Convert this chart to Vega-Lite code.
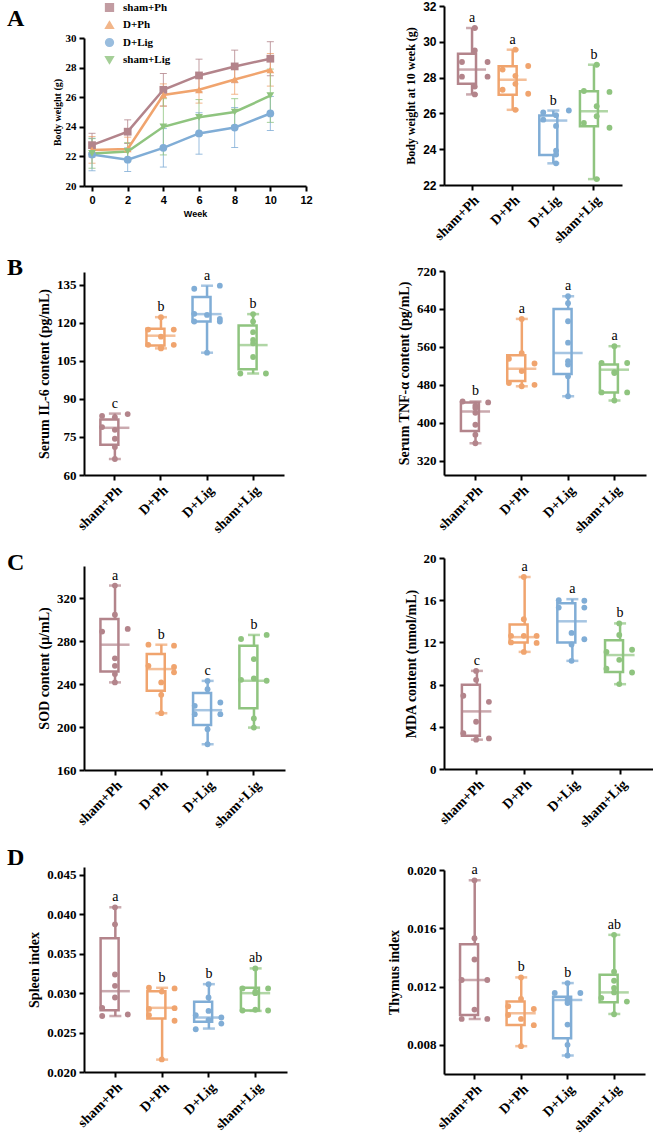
{
"$schema": "https://vega.github.io/schema/vega-lite/v6.json",
"padding": {"left": 7, "top": 0, "right": 0, "bottom": 0},
"background": "white",
"bounds": "flush",
"spacing": 360,
"datasets": {
"lineA": [
{"group":"sham+Ph","week":0,"mean":22.76,"sd":0.8},{"group":"sham+Ph","week":2,"mean":23.67,"sd":0.8},{"group":"sham+Ph","week":4,"mean":26.5,"sd":1.1},{"group":"sham+Ph","week":6,"mean":27.47,"sd":1.1},{"group":"sham+Ph","week":8,"mean":28.08,"sd":1.1},{"group":"sham+Ph","week":10,"mean":28.6,"sd":1.15},
{"group":"D+Ph","week":0,"mean":22.44,"sd":0.9},{"group":"D+Ph","week":2,"mean":22.5,"sd":0.8},{"group":"D+Ph","week":4,"mean":26.15,"sd":0.75},{"group":"D+Ph","week":6,"mean":26.5,"sd":0.9},{"group":"D+Ph","week":8,"mean":27.2,"sd":1.0},{"group":"D+Ph","week":10,"mean":27.85,"sd":1.1},
{"group":"D+Lig","week":0,"mean":22.13,"sd":1.1},{"group":"D+Lig","week":2,"mean":21.78,"sd":0.8},{"group":"D+Lig","week":4,"mean":22.58,"sd":1.3},{"group":"D+Lig","week":6,"mean":23.55,"sd":1.4},{"group":"D+Lig","week":8,"mean":23.95,"sd":1.35},{"group":"D+Lig","week":10,"mean":24.9,"sd":1.15},
{"group":"sham+Lig","week":0,"mean":22.2,"sd":1.0},{"group":"sham+Lig","week":2,"mean":22.33,"sd":0.6},{"group":"sham+Lig","week":4,"mean":24.0,"sd":1.9},{"group":"sham+Lig","week":6,"mean":24.64,"sd":1.2},{"group":"sham+Lig","week":8,"mean":25.0,"sd":0.9},{"group":"sham+Lig","week":10,"mean":26.1,"sd":1.8}
],
"sumAR": [
{"group":"sham+Ph","min":27.06,"q1":27.65,"med":28.45,"q3":29.33,"max":30.77,"sig":"a"},
{"group":"D+Ph","min":26.2,"q1":27.04,"med":27.88,"q3":28.64,"max":29.56,"sig":"a"},
{"group":"D+Lig","min":23.21,"q1":23.68,"med":25.6,"q3":25.88,"max":26.16,"sig":"b"},
{"group":"sham+Lig","min":22.33,"q1":25.28,"med":26.12,"q3":27.24,"max":28.72,"sig":"b"}
],
"ptsAR": [
{"group":"sham+Ph","v":30.77,"side":"C"},{"group":"sham+Ph","v":29.52,"side":"C"},{"group":"sham+Ph","v":28.87,"side":"L"},{"group":"sham+Ph","v":28.87,"side":"R"},{"group":"sham+Ph","v":28.05,"side":"L"},{"group":"sham+Ph","v":28.05,"side":"R"},{"group":"sham+Ph","v":27.5,"side":"C"},{"group":"sham+Ph","v":27.06,"side":"C"},
{"group":"D+Ph","v":29.56,"side":"C"},{"group":"D+Ph","v":28.65,"side":"R"},{"group":"D+Ph","v":28.45,"side":"L"},{"group":"D+Ph","v":28.1,"side":"C"},{"group":"D+Ph","v":27.65,"side":"C"},{"group":"D+Ph","v":27.32,"side":"L"},{"group":"D+Ph","v":27.1,"side":"R"},{"group":"D+Ph","v":26.2,"side":"C"},
{"group":"D+Lig","v":26.16,"side":"R"},{"group":"D+Lig","v":26.05,"side":"L"},{"group":"D+Lig","v":25.9,"side":"C"},{"group":"D+Lig","v":25.65,"side":"L"},{"group":"D+Lig","v":25.3,"side":"C"},{"group":"D+Lig","v":23.92,"side":"C"},{"group":"D+Lig","v":23.7,"side":"C"},{"group":"D+Lig","v":23.21,"side":"C"},
{"group":"sham+Lig","v":28.72,"side":"C"},{"group":"sham+Lig","v":27.25,"side":"L"},{"group":"sham+Lig","v":27.2,"side":"R"},{"group":"sham+Lig","v":26.4,"side":"C"},{"group":"sham+Lig","v":25.84,"side":"C"},{"group":"sham+Lig","v":25.47,"side":"L"},{"group":"sham+Lig","v":25.2,"side":"R"},{"group":"sham+Lig","v":22.33,"side":"C"}
],
"sumBL": [
{"group":"sham+Ph","min":66.3,"q1":71.9,"med":78.6,"q3":81.9,"max":84.2,"sig":"c"},
{"group":"D+Ph","min":109.9,"q1":111,"med":114.9,"q3":117.6,"max":122.2,"sig":"b"},
{"group":"D+Lig","min":108.2,"q1":120.5,"med":123.4,"q3":130.1,"max":134.6,"sig":"a"},
{"group":"sham+Lig","min":100,"q1":101.7,"med":111.2,"q3":118.9,"max":123.4,"sig":"b"}
],
"ptsBL": [
{"group":"sham+Ph","v":84.0,"side":"R"},{"group":"sham+Ph","v":83.3,"side":"L"},{"group":"sham+Ph","v":82.8,"side":"C"},{"group":"sham+Ph","v":78.9,"side":"L"},{"group":"sham+Ph","v":77.8,"side":"C"},{"group":"sham+Ph","v":74.3,"side":"C"},{"group":"sham+Ph","v":71.0,"side":"C"},{"group":"sham+Ph","v":66.3,"side":"C"},
{"group":"D+Ph","v":122.2,"side":"C"},{"group":"D+Ph","v":117.3,"side":"L"},{"group":"D+Ph","v":117.3,"side":"R"},{"group":"D+Ph","v":114.5,"side":"C"},{"group":"D+Ph","v":111.3,"side":"L"},{"group":"D+Ph","v":111.3,"side":"R"},{"group":"D+Ph","v":110.3,"side":"C"},{"group":"D+Ph","v":109.9,"side":"C"},
{"group":"D+Lig","v":134.6,"side":"R"},{"group":"D+Lig","v":133.4,"side":"L"},{"group":"D+Lig","v":123.5,"side":"L"},{"group":"D+Lig","v":123.1,"side":"C"},{"group":"D+Lig","v":121.5,"side":"R"},{"group":"D+Lig","v":120.5,"side":"L"},{"group":"D+Lig","v":120.5,"side":"R"},{"group":"D+Lig","v":108.2,"side":"C"},
{"group":"sham+Lig","v":123.4,"side":"C"},{"group":"sham+Lig","v":120.5,"side":"C"},{"group":"sham+Lig","v":116.3,"side":"C"},{"group":"sham+Lig","v":113.2,"side":"C"},{"group":"sham+Lig","v":111.9,"side":"C"},{"group":"sham+Lig","v":106.5,"side":"C"},{"group":"sham+Lig","v":100,"side":"L"},{"group":"sham+Lig","v":100,"side":"R"}
],
"sumBR": [
{"group":"sham+Ph","min":357,"q1":383,"med":424,"q3":443,"max":445,"sig":"b"},
{"group":"D+Ph","min":477,"q1":488,"med":514,"q3":542.5,"max":619,"sig":"a"},
{"group":"D+Lig","min":456,"q1":503,"med":547,"q3":640,"max":667,"sig":"a"},
{"group":"sham+Lig","min":447,"q1":464,"med":512,"q3":523,"max":561.5,"sig":"a"}
],
"ptsBR": [
{"group":"sham+Ph","v":445,"side":"L"},{"group":"sham+Ph","v":443,"side":"R"},{"group":"sham+Ph","v":436,"side":"C"},{"group":"sham+Ph","v":431,"side":"C"},{"group":"sham+Ph","v":421,"side":"C"},{"group":"sham+Ph","v":396,"side":"C"},{"group":"sham+Ph","v":375,"side":"C"},{"group":"sham+Ph","v":357,"side":"C"},
{"group":"D+Ph","v":619,"side":"C"},{"group":"D+Ph","v":547,"side":"C"},{"group":"D+Ph","v":535,"side":"L"},{"group":"D+Ph","v":525,"side":"R"},{"group":"D+Ph","v":509,"side":"C"},{"group":"D+Ph","v":484,"side":"L"},{"group":"D+Ph","v":480,"side":"R"},{"group":"D+Ph","v":477,"side":"C"},
{"group":"D+Lig","v":667,"side":"C"},{"group":"D+Lig","v":652,"side":"C"},{"group":"D+Lig","v":614,"side":"C"},{"group":"D+Lig","v":569,"side":"C"},{"group":"D+Lig","v":530,"side":"C"},{"group":"D+Lig","v":523,"side":"C"},{"group":"D+Lig","v":498,"side":"C"},{"group":"D+Lig","v":456,"side":"C"},
{"group":"sham+Lig","v":561.5,"side":"C"},{"group":"sham+Lig","v":526,"side":"L"},{"group":"sham+Lig","v":526,"side":"R"},{"group":"sham+Lig","v":507,"side":"C"},{"group":"sham+Lig","v":505,"side":"C"},{"group":"sham+Lig","v":464,"side":"L"},{"group":"sham+Lig","v":464,"side":"R"},{"group":"sham+Lig","v":447,"side":"C"}
],
"sumCL": [
{"group":"sham+Ph","min":241.6,"q1":251.8,"med":276.7,"q3":300.7,"max":331.8,"sig":"a"},
{"group":"D+Ph","min":212.9,"q1":233.8,"med":254,"q3":268,"max":276.7,"sig":"b"},
{"group":"D+Lig","min":184,"q1":202,"med":215.7,"q3":231.6,"max":243,"sig":"c"},
{"group":"sham+Lig","min":199.5,"q1":217.6,"med":243.1,"q3":275.8,"max":285.8,"sig":"b"}
],
"ptsCL": [
{"group":"sham+Ph","v":331.8,"side":"C"},{"group":"sham+Ph","v":304.7,"side":"C"},{"group":"sham+Ph","v":291.4,"side":"R"},{"group":"sham+Ph","v":288.9,"side":"L"},{"group":"sham+Ph","v":264,"side":"C"},{"group":"sham+Ph","v":257,"side":"C"},{"group":"sham+Ph","v":249.3,"side":"C"},{"group":"sham+Ph","v":241.6,"side":"C"},
{"group":"D+Ph","v":276.7,"side":"L"},{"group":"D+Ph","v":275.8,"side":"R"},{"group":"D+Ph","v":257,"side":"L"},{"group":"D+Ph","v":256,"side":"R"},{"group":"D+Ph","v":251,"side":"R"},{"group":"D+Ph","v":241.6,"side":"C"},{"group":"D+Ph","v":230,"side":"C"},{"group":"D+Ph","v":212.9,"side":"C"},
{"group":"D+Lig","v":243,"side":"C"},{"group":"D+Lig","v":235.3,"side":"C"},{"group":"D+Lig","v":222.9,"side":"R"},{"group":"D+Lig","v":219.8,"side":"L"},{"group":"D+Lig","v":212,"side":"L"},{"group":"D+Lig","v":212,"side":"R"},{"group":"D+Lig","v":198,"side":"C"},{"group":"D+Lig","v":184,"side":"C"},
{"group":"sham+Lig","v":285.8,"side":"R"},{"group":"sham+Lig","v":282,"side":"L"},{"group":"sham+Lig","v":263.3,"side":"C"},{"group":"sham+Lig","v":245.3,"side":"C"},{"group":"sham+Lig","v":244,"side":"L"},{"group":"sham+Lig","v":243.1,"side":"R"},{"group":"sham+Lig","v":208,"side":"C"},{"group":"sham+Lig","v":199.5,"side":"C"}
],
"sumCR": [
{"group":"sham+Ph","min":2.78,"q1":3.15,"med":5.46,"q3":7.98,"max":9.3,"sig":"c"},
{"group":"D+Ph","min":11.1,"q1":12.0,"med":12.5,"q3":13.7,"max":18.2,"sig":"a"},
{"group":"D+Lig","min":10.25,"q1":12.0,"med":14.0,"q3":15.7,"max":16.1,"sig":"a"},
{"group":"sham+Lig","min":8.04,"q1":9.2,"med":10.8,"q3":12.2,"max":13.8,"sig":"b"}
],
"ptsCR": [
{"group":"sham+Ph","v":9.3,"side":"C"},{"group":"sham+Ph","v":8.45,"side":"C"},{"group":"sham+Ph","v":6.94,"side":"L"},{"group":"sham+Ph","v":6.37,"side":"R"},{"group":"sham+Ph","v":4.48,"side":"C"},{"group":"sham+Ph","v":3.4,"side":"L"},{"group":"sham+Ph","v":2.9,"side":"R"},{"group":"sham+Ph","v":2.78,"side":"C"},
{"group":"D+Ph","v":18.2,"side":"C"},{"group":"D+Ph","v":14.2,"side":"C"},{"group":"D+Ph","v":12.62,"side":"L"},{"group":"D+Ph","v":12.62,"side":"C"},{"group":"D+Ph","v":12.62,"side":"R"},{"group":"D+Ph","v":12.0,"side":"L"},{"group":"D+Ph","v":11.95,"side":"R"},{"group":"D+Ph","v":11.1,"side":"C"},
{"group":"D+Lig","v":16.0,"side":"L"},{"group":"D+Lig","v":15.95,"side":"R"},{"group":"D+Lig","v":15.3,"side":"L"},{"group":"D+Lig","v":15.3,"side":"R"},{"group":"D+Lig","v":12.9,"side":"C"},{"group":"D+Lig","v":12.3,"side":"R"},{"group":"D+Lig","v":11.8,"side":"C"},{"group":"D+Lig","v":10.25,"side":"C"},
{"group":"sham+Lig","v":13.8,"side":"C"},{"group":"sham+Lig","v":12.7,"side":"C"},{"group":"sham+Lig","v":11.3,"side":"R"},{"group":"sham+Lig","v":11.1,"side":"L"},{"group":"sham+Lig","v":10.35,"side":"C"},{"group":"sham+Lig","v":9.5,"side":"L"},{"group":"sham+Lig","v":9.15,"side":"R"},{"group":"sham+Lig","v":8.05,"side":"C"}
],
"sumDL": [
{"group":"sham+Ph","min":0.0271,"q1":0.02784,"med":0.03025,"q3":0.03695,"max":0.04089,"sig":"a"},
{"group":"D+Ph","min":0.02157,"q1":0.02678,"med":0.02814,"q3":0.03025,"max":0.03068,"sig":"b"},
{"group":"D+Lig","min":0.02551,"q1":0.02636,"med":0.02691,"q3":0.0289,"max":0.03114,"sig":"b"},
{"group":"sham+Lig","min":0.02775,"q1":0.0278,"med":0.0300,"q3":0.0307,"max":0.03314,"sig":"ab"}
],
"ptsDL": [
{"group":"sham+Ph","v":0.04089,"side":"C"},{"group":"sham+Ph","v":0.03873,"side":"C"},{"group":"sham+Ph","v":0.03237,"side":"C"},{"group":"sham+Ph","v":0.03093,"side":"C"},{"group":"sham+Ph","v":0.02945,"side":"C"},{"group":"sham+Ph","v":0.02814,"side":"L"},{"group":"sham+Ph","v":0.0271,"side":"L"},{"group":"sham+Ph","v":0.02729,"side":"R"},
{"group":"D+Ph","v":0.0307,"side":"L"},{"group":"D+Ph","v":0.0306,"side":"R"},{"group":"D+Ph","v":0.0302,"side":"C"},{"group":"D+Ph","v":0.0280,"side":"L"},{"group":"D+Ph","v":0.0281,"side":"R"},{"group":"D+Ph","v":0.0272,"side":"L"},{"group":"D+Ph","v":0.0265,"side":"R"},{"group":"D+Ph","v":0.0216,"side":"C"},
{"group":"D+Lig","v":0.03114,"side":"C"},{"group":"D+Lig","v":0.02945,"side":"C"},{"group":"D+Lig","v":0.02775,"side":"C"},{"group":"D+Lig","v":0.0272,"side":"L"},{"group":"D+Lig","v":0.02691,"side":"R"},{"group":"D+Lig","v":0.0266,"side":"C"},{"group":"D+Lig","v":0.02614,"side":"R"},{"group":"D+Lig","v":0.02542,"side":"L"},
{"group":"sham+Lig","v":0.03314,"side":"C"},{"group":"sham+Lig","v":0.0306,"side":"L"},{"group":"sham+Lig","v":0.0306,"side":"R"},{"group":"sham+Lig","v":0.0300,"side":"C"},{"group":"sham+Lig","v":0.0302,"side":"C"},{"group":"sham+Lig","v":0.0278,"side":"L"},{"group":"sham+Lig","v":0.0278,"side":"R"},{"group":"sham+Lig","v":0.0279,"side":"C"}
],
"sumDR": [
{"group":"sham+Ph","min":0.00978,"q1":0.01005,"med":0.01245,"q3":0.01491,"max":0.01929,"sig":"a"},
{"group":"D+Ph","min":0.00791,"q1":0.00937,"med":0.01017,"q3":0.01097,"max":0.01263,"sig":"b"},
{"group":"D+Lig","min":0.00727,"q1":0.00846,"med":0.01108,"q3":0.01131,"max":0.01224,"sig":"b"},
{"group":"sham+Lig","min":0.01012,"q1":0.01092,"med":0.0116,"q3":0.01281,"max":0.01555,"sig":"ab"}
],
"ptsDR": [
{"group":"sham+Ph","v":0.01929,"side":"C"},{"group":"sham+Ph","v":0.01532,"side":"C"},{"group":"sham+Ph","v":0.01386,"side":"C"},{"group":"sham+Ph","v":0.01245,"side":"L"},{"group":"sham+Ph","v":0.01245,"side":"R"},{"group":"sham+Ph","v":0.01042,"side":"C"},{"group":"sham+Ph","v":0.00978,"side":"L"},{"group":"sham+Ph","v":0.00978,"side":"R"},
{"group":"D+Ph","v":0.01263,"side":"C"},{"group":"D+Ph","v":0.01115,"side":"C"},{"group":"D+Ph","v":0.01065,"side":"L"},{"group":"D+Ph","v":0.01046,"side":"R"},{"group":"D+Ph","v":0.01005,"side":"L"},{"group":"D+Ph","v":0.00978,"side":"C"},{"group":"D+Ph","v":0.00935,"side":"R"},{"group":"D+Ph","v":0.00791,"side":"C"},
{"group":"D+Lig","v":0.01224,"side":"C"},{"group":"D+Lig","v":0.01156,"side":"L"},{"group":"D+Lig","v":0.01156,"side":"R"},{"group":"D+Lig","v":0.01108,"side":"C"},{"group":"D+Lig","v":0.01087,"side":"C"},{"group":"D+Lig","v":0.00939,"side":"C"},{"group":"D+Lig","v":0.0080,"side":"C"},{"group":"D+Lig","v":0.00727,"side":"C"},
{"group":"sham+Lig","v":0.01555,"side":"C"},{"group":"sham+Lig","v":0.01302,"side":"C"},{"group":"sham+Lig","v":0.0124,"side":"C"},{"group":"sham+Lig","v":0.0119,"side":"C"},{"group":"sham+Lig","v":0.0116,"side":"C"},{"group":"sham+Lig","v":0.01122,"side":"L"},{"group":"sham+Lig","v":0.01097,"side":"R"},{"group":"sham+Lig","v":0.0101,"side":"C"}
]
},
"hconcat": [
{
"vconcat": [
{"width": 1, "height": 32, "data": {"values": []}, "mark": "point"},
{
"width": 222, "height": 148,
"title": {"text": "A", "anchor": "start", "frame": "group", "orient": "top", "offset": 0, "dx": -77, "dy": 18, "baseline": "alphabetic", "font": "Liberation Serif", "fontSize": 24, "fontWeight": "bold", "color": "black"},
"data": {"name": "lineA"},
"layer": [
{"mark": {"type": "errorbar", "ticks": true, "size": 7, "thickness": 1, "opacity": 0.8},
 "encoding": {
  "x": {"field": "week", "type": "quantitative", "scale": {"domain": [-0.45, 12], "nice": false, "zero": false}, "axis": {"values": [0,2,4,6,8,10,12], "title": "Week", "labelAngle": 0, "labelFont": "Liberation Sans", "labelFontSize": 11, "labelFlush": false, "titleFont": "Liberation Sans", "titleFontSize": 9, "titlePadding": 4}},
  "y": {"field": "mean", "type": "quantitative", "scale": {"domain": [20, 30], "nice": false, "zero": false}, "axis": {"values": [20,22,24,26,28,30], "title": "Body weight (g)", "labelFontSize": 11, "titleFontSize": 10, "titlePadding": 3}},
  "yError": {"field": "sd"},
  "color": {"field": "group", "type": "nominal", "scale": {"domain": ["sham+Ph","D+Ph","D+Lig","sham+Lig"], "range": ["#B3848B","#F0A46E","#80ADD6","#8FC47F"]}, "legend": {"orient": "none", "legendX": 20, "legendY": -4, "title": null, "labelFont": "Liberation Serif", "labelFontWeight": "bold", "labelFontSize": 11, "labelColor": "black", "symbolSize": 60, "rowPadding": 3.5, "labelOffset": 8}}
 }},
{"mark": {"type": "line", "strokeWidth": 2.5},
 "encoding": {
  "x": {"field": "week", "type": "quantitative", "axis": {"values": [0,2,4,6,8,10,12], "title": "Week", "labelAngle": 0, "labelFont": "Liberation Sans", "labelFontSize": 11, "labelFlush": false, "titleFont": "Liberation Sans", "titleFontSize": 9, "titlePadding": 4}},
  "y": {"field": "mean", "type": "quantitative", "axis": {"values": [20,22,24,26,28,30], "title": "Body weight (g)", "labelFontSize": 11, "titleFontSize": 10, "titlePadding": 3}},
  "color": {"field": "group", "type": "nominal", "legend": {"orient": "none", "legendX": 20, "legendY": -4, "title": null, "labelFont": "Liberation Serif", "labelFontWeight": "bold", "labelFontSize": 11, "labelColor": "black", "symbolSize": 60, "rowPadding": 3.5, "labelOffset": 8}}
 }},
{"mark": {"type": "point", "filled": true, "size": 60, "opacity": 1},
 "encoding": {
  "x": {"field": "week", "type": "quantitative", "axis": {"values": [0,2,4,6,8,10,12], "title": "Week", "labelAngle": 0, "labelFont": "Liberation Sans", "labelFontSize": 11, "labelFlush": false, "titleFont": "Liberation Sans", "titleFontSize": 9, "titlePadding": 4}},
  "y": {"field": "mean", "type": "quantitative", "axis": {"values": [20,22,24,26,28,30], "title": "Body weight (g)", "labelFontSize": 11, "titleFontSize": 10, "titlePadding": 3}},
  "color": {"field": "group", "type": "nominal", "legend": {"orient": "none", "legendX": 20, "legendY": -4, "title": null, "labelFont": "Liberation Serif", "labelFontWeight": "bold", "labelFontSize": 11, "labelColor": "black", "symbolSize": 60, "rowPadding": 3.5, "labelOffset": 8}},
  "shape": {"field": "group", "type": "nominal", "scale": {"domain": ["sham+Ph","D+Ph","D+Lig","sham+Lig"], "range": ["square","triangle-up","circle","triangle-down"]}, "legend": {"orient": "none", "legendX": 20, "legendY": -4, "title": null, "labelFont": "Liberation Serif", "labelFontWeight": "bold", "labelFontSize": 11, "labelColor": "black", "symbolSize": 60, "rowPadding": 3.5, "labelOffset": 8}}
 }}
]
},
{"width": 1, "height": 86, "data": {"values": []}, "mark": "point"},
{
"width": 200, "height": 203,
"title": {"text": "B", "anchor": "start", "frame": "group", "orient": "top", "offset": 0, "dx": -77, "dy": 30, "baseline": "alphabetic", "font": "Liberation Serif", "fontSize": 24, "fontWeight": "bold", "color": "black"},
"encoding": {
 "x": {"field": "group", "type": "nominal", "sort": ["sham+Ph","D+Ph","D+Lig","sham+Lig"], "scale": {"type": "band", "paddingInner": 0, "paddingOuter": 0.17}, "axis": {"title": null}},
 "color": {"field": "group", "type": "nominal", "scale": {"domain": ["sham+Ph","D+Ph","D+Lig","sham+Lig"], "range": ["#B3848B","#F0A46E","#80ADD6","#8FC47F"]}, "legend": null}
},
"layer": [
{"data": {"name": "sumBL"}, "mark": {"type": "rule", "strokeWidth": 2.5}, "encoding": {"y": {"field": "min", "type": "quantitative", "scale": {"domain": [60, 140], "nice": false, "zero": false}, "axis": {"values": [60,75,90,105,120,135], "title": "Serum IL-6 content (pg/mL)"}}, "y2": {"field": "max"}}},
{"data": {"name": "sumBL"}, "mark": {"type": "bar", "fill": "white", "strokeWidth": 2.5, "width": {"band": 0.63}}, "encoding": {"y": {"field": "q1", "type": "quantitative", "axis": {"values": [60,75,90,105,120,135], "title": "Serum IL-6 content (pg/mL)"}}, "y2": {"field": "q3"}, "color": null, "stroke": {"field": "group", "type": "nominal", "scale": {"domain": ["sham+Ph","D+Ph","D+Lig","sham+Lig"], "range": ["#B3848B","#F0A46E","#80ADD6","#8FC47F"]}, "legend": null}}},
{"data": {"name": "sumBL"}, "mark": {"type": "tick", "thickness": 2.5, "size": 29}, "encoding": {"y": {"field": "med", "type": "quantitative", "axis": {"values": [60,75,90,105,120,135], "title": "Serum IL-6 content (pg/mL)"}}}},
{"data": {"name": "sumBL"}, "mark": {"type": "tick", "thickness": 2.5, "size": 12}, "encoding": {"y": {"field": "min", "type": "quantitative", "axis": {"values": [60,75,90,105,120,135], "title": "Serum IL-6 content (pg/mL)"}}}},
{"data": {"name": "sumBL"}, "mark": {"type": "tick", "thickness": 2.5, "size": 12}, "encoding": {"y": {"field": "max", "type": "quantitative", "axis": {"values": [60,75,90,105,120,135], "title": "Serum IL-6 content (pg/mL)"}}}},
{"data": {"name": "ptsBL"}, "mark": {"type": "circle", "size": 34, "opacity": 1}, "encoding": {"xOffset": {"field": "side", "type": "nominal", "scale": {"domain": ["L","C","R"], "paddingInner": 0, "paddingOuter": 0.8}}, "y": {"field": "v", "type": "quantitative", "axis": {"values": [60,75,90,105,120,135], "title": "Serum IL-6 content (pg/mL)"}}}},
{"data": {"name": "sumBL"}, "mark": {"type": "text", "dy": -10, "font": "Liberation Serif", "fontSize": 14, "color": "black"}, "encoding": {"y": {"field": "max", "type": "quantitative", "axis": {"values": [60,75,90,105,120,135], "title": "Serum IL-6 content (pg/mL)"}}, "color": null, "text": {"field": "sig"}}}
]
},
{"width": 1, "height": 91, "data": {"values": []}, "mark": "point"},
{
"width": 201, "height": 204,
"title": {"text": "C", "anchor": "start", "frame": "group", "orient": "top", "offset": 0, "dx": -77, "dy": 28, "baseline": "alphabetic", "font": "Liberation Serif", "fontSize": 24, "fontWeight": "bold", "color": "black"},
"encoding": {
 "x": {"field": "group", "type": "nominal", "sort": ["sham+Ph","D+Ph","D+Lig","sham+Lig"], "scale": {"type": "band", "paddingInner": 0, "paddingOuter": 0.17}, "axis": {"title": null}},
 "color": {"field": "group", "type": "nominal", "scale": {"domain": ["sham+Ph","D+Ph","D+Lig","sham+Lig"], "range": ["#B3848B","#F0A46E","#80ADD6","#8FC47F"]}, "legend": null}
},
"layer": [
{"data": {"name": "sumCL"}, "mark": {"type": "rule", "strokeWidth": 2.5}, "encoding": {"y": {"field": "min", "type": "quantitative", "scale": {"domain": [160, 350], "nice": false, "zero": false}, "axis": {"values": [160,200,240,280,320], "title": "SOD content (μ/mL)"}}, "y2": {"field": "max"}}},
{"data": {"name": "sumCL"}, "mark": {"type": "bar", "fill": "white", "strokeWidth": 2.5, "width": {"band": 0.63}}, "encoding": {"y": {"field": "q1", "type": "quantitative", "axis": {"values": [160,200,240,280,320], "title": "SOD content (μ/mL)"}}, "y2": {"field": "q3"}, "color": null, "stroke": {"field": "group", "type": "nominal", "scale": {"domain": ["sham+Ph","D+Ph","D+Lig","sham+Lig"], "range": ["#B3848B","#F0A46E","#80ADD6","#8FC47F"]}, "legend": null}}},
{"data": {"name": "sumCL"}, "mark": {"type": "tick", "thickness": 2.5, "size": 29}, "encoding": {"y": {"field": "med", "type": "quantitative", "axis": {"values": [160,200,240,280,320], "title": "SOD content (μ/mL)"}}}},
{"data": {"name": "sumCL"}, "mark": {"type": "tick", "thickness": 2.5, "size": 12}, "encoding": {"y": {"field": "min", "type": "quantitative", "axis": {"values": [160,200,240,280,320], "title": "SOD content (μ/mL)"}}}},
{"data": {"name": "sumCL"}, "mark": {"type": "tick", "thickness": 2.5, "size": 12}, "encoding": {"y": {"field": "max", "type": "quantitative", "axis": {"values": [160,200,240,280,320], "title": "SOD content (μ/mL)"}}}},
{"data": {"name": "ptsCL"}, "mark": {"type": "circle", "size": 34, "opacity": 1}, "encoding": {"xOffset": {"field": "side", "type": "nominal", "scale": {"domain": ["L","C","R"], "paddingInner": 0, "paddingOuter": 0.8}}, "y": {"field": "v", "type": "quantitative", "axis": {"values": [160,200,240,280,320], "title": "SOD content (μ/mL)"}}}},
{"data": {"name": "sumCL"}, "mark": {"type": "text", "dy": -10, "font": "Liberation Serif", "fontSize": 14, "color": "black"}, "encoding": {"y": {"field": "max", "type": "quantitative", "axis": {"values": [160,200,240,280,320], "title": "SOD content (μ/mL)"}}, "color": null, "text": {"field": "sig"}}}
]
},
{"width": 1, "height": 97, "data": {"values": []}, "mark": "point"},
{
"width": 203, "height": 205,
"title": {"text": "D", "anchor": "start", "frame": "group", "orient": "top", "offset": 0, "dx": -77, "dy": 22, "baseline": "alphabetic", "font": "Liberation Serif", "fontSize": 24, "fontWeight": "bold", "color": "black"},
"encoding": {
 "x": {"field": "group", "type": "nominal", "sort": ["sham+Ph","D+Ph","D+Lig","sham+Lig"], "scale": {"type": "band", "paddingInner": 0, "paddingOuter": 0.17}, "axis": {"title": null}},
 "color": {"field": "group", "type": "nominal", "scale": {"domain": ["sham+Ph","D+Ph","D+Lig","sham+Lig"], "range": ["#B3848B","#F0A46E","#80ADD6","#8FC47F"]}, "legend": null}
},
"layer": [
{"data": {"name": "sumDL"}, "mark": {"type": "rule", "strokeWidth": 2.5}, "encoding": {"y": {"field": "min", "type": "quantitative", "scale": {"domain": [0.020, 0.046], "nice": false, "zero": false}, "axis": {"values": [0.020,0.025,0.030,0.035,0.040,0.045], "format": ".3f", "title": "Spleen index"}}, "y2": {"field": "max"}}},
{"data": {"name": "sumDL"}, "mark": {"type": "bar", "fill": "white", "strokeWidth": 2.5, "width": {"band": 0.63}}, "encoding": {"y": {"field": "q1", "type": "quantitative", "axis": {"values": [0.020,0.025,0.030,0.035,0.040,0.045], "format": ".3f", "title": "Spleen index"}}, "y2": {"field": "q3"}, "color": null, "stroke": {"field": "group", "type": "nominal", "scale": {"domain": ["sham+Ph","D+Ph","D+Lig","sham+Lig"], "range": ["#B3848B","#F0A46E","#80ADD6","#8FC47F"]}, "legend": null}}},
{"data": {"name": "sumDL"}, "mark": {"type": "tick", "thickness": 2.5, "size": 29}, "encoding": {"y": {"field": "med", "type": "quantitative", "axis": {"values": [0.020,0.025,0.030,0.035,0.040,0.045], "format": ".3f", "title": "Spleen index"}}}},
{"data": {"name": "sumDL"}, "mark": {"type": "tick", "thickness": 2.5, "size": 12}, "encoding": {"y": {"field": "min", "type": "quantitative", "axis": {"values": [0.020,0.025,0.030,0.035,0.040,0.045], "format": ".3f", "title": "Spleen index"}}}},
{"data": {"name": "sumDL"}, "mark": {"type": "tick", "thickness": 2.5, "size": 12}, "encoding": {"y": {"field": "max", "type": "quantitative", "axis": {"values": [0.020,0.025,0.030,0.035,0.040,0.045], "format": ".3f", "title": "Spleen index"}}}},
{"data": {"name": "ptsDL"}, "mark": {"type": "circle", "size": 34, "opacity": 1}, "encoding": {"xOffset": {"field": "side", "type": "nominal", "scale": {"domain": ["L","C","R"], "paddingInner": 0, "paddingOuter": 0.8}}, "y": {"field": "v", "type": "quantitative", "axis": {"values": [0.020,0.025,0.030,0.035,0.040,0.045], "format": ".3f", "title": "Spleen index"}}}},
{"data": {"name": "sumDL"}, "mark": {"type": "text", "dy": -10, "font": "Liberation Serif", "fontSize": 14, "color": "black"}, "encoding": {"y": {"field": "max", "type": "quantitative", "axis": {"values": [0.020,0.025,0.030,0.035,0.040,0.045], "format": ".3f", "title": "Spleen index"}}, "color": null, "text": {"field": "sig"}}}
]
}
],
"spacing": 0,
"bounds": "flush"
},
{
"vconcat": [
{
"width": 178, "height": 179,
"encoding": {
 "x": {"field": "group", "type": "nominal", "sort": ["sham+Ph","D+Ph","D+Lig","sham+Lig"], "scale": {"type": "band", "paddingInner": 0, "paddingOuter": 0.19}, "axis": {"title": null}},
 "color": {"field": "group", "type": "nominal", "scale": {"domain": ["sham+Ph","D+Ph","D+Lig","sham+Lig"], "range": ["#B3848B","#F0A46E","#80ADD6","#8FC47F"]}, "legend": null}
},
"layer": [
{"data": {"name": "sumAR"}, "mark": {"type": "rule", "strokeWidth": 2.5}, "encoding": {"y": {"field": "min", "type": "quantitative", "scale": {"domain": [22, 32], "nice": false, "zero": false}, "axis": {"values": [22,24,26,28,30,32], "title": "Body weight at 10 week (g)", "labelFont": "Liberation Sans", "labelFontSize": 12, "titleFontSize": 12}}, "y2": {"field": "max"}}},
{"data": {"name": "sumAR"}, "mark": {"type": "bar", "fill": "white", "strokeWidth": 2.5, "width": {"band": 0.69}}, "encoding": {"y": {"field": "q1", "type": "quantitative", "axis": {"values": [22,24,26,28,30,32], "title": "Body weight at 10 week (g)", "labelFont": "Liberation Sans", "labelFontSize": 12, "titleFontSize": 12}}, "y2": {"field": "q3"}, "color": null, "stroke": {"field": "group", "type": "nominal", "scale": {"domain": ["sham+Ph","D+Ph","D+Lig","sham+Lig"], "range": ["#B3848B","#F0A46E","#80ADD6","#8FC47F"]}, "legend": null}}},
{"data": {"name": "sumAR"}, "mark": {"type": "tick", "thickness": 2.5, "size": 28}, "encoding": {"y": {"field": "med", "type": "quantitative", "axis": {"values": [22,24,26,28,30,32], "title": "Body weight at 10 week (g)", "labelFont": "Liberation Sans", "labelFontSize": 12, "titleFontSize": 12}}}},
{"data": {"name": "sumAR"}, "mark": {"type": "tick", "thickness": 2.5, "size": 12}, "encoding": {"y": {"field": "min", "type": "quantitative", "axis": {"values": [22,24,26,28,30,32], "title": "Body weight at 10 week (g)", "labelFont": "Liberation Sans", "labelFontSize": 12, "titleFontSize": 12}}}},
{"data": {"name": "sumAR"}, "mark": {"type": "tick", "thickness": 2.5, "size": 12}, "encoding": {"y": {"field": "max", "type": "quantitative", "axis": {"values": [22,24,26,28,30,32], "title": "Body weight at 10 week (g)", "labelFont": "Liberation Sans", "labelFontSize": 12, "titleFontSize": 12}}}},
{"data": {"name": "ptsAR"}, "mark": {"type": "circle", "size": 34, "opacity": 1}, "encoding": {"xOffset": {"field": "side", "type": "nominal", "scale": {"domain": ["L","C","R"], "paddingInner": 0, "paddingOuter": 1.2}}, "y": {"field": "v", "type": "quantitative", "axis": {"values": [22,24,26,28,30,32], "title": "Body weight at 10 week (g)", "labelFont": "Liberation Sans", "labelFontSize": 12, "titleFontSize": 12}}}},
{"data": {"name": "sumAR"}, "mark": {"type": "text", "dy": -10, "font": "Liberation Serif", "fontSize": 14, "color": "black"}, "encoding": {"y": {"field": "max", "type": "quantitative", "axis": {"values": [22,24,26,28,30,32], "title": "Body weight at 10 week (g)", "labelFont": "Liberation Sans", "labelFontSize": 12, "titleFontSize": 12}}, "color": null, "text": {"field": "sig"}}}
]
},
{"width": 1, "height": 86, "data": {"values": []}, "mark": "point"},
{
"width": 202, "height": 204,
"encoding": {
 "x": {"field": "group", "type": "nominal", "sort": ["sham+Ph","D+Ph","D+Lig","sham+Lig"], "scale": {"type": "band", "paddingInner": 0, "paddingOuter": 0.18}, "axis": {"title": null}},
 "color": {"field": "group", "type": "nominal", "scale": {"domain": ["sham+Ph","D+Ph","D+Lig","sham+Lig"], "range": ["#B3848B","#F0A46E","#80ADD6","#8FC47F"]}, "legend": null}
},
"layer": [
{"data": {"name": "sumBR"}, "mark": {"type": "rule", "strokeWidth": 2.5}, "encoding": {"y": {"field": "min", "type": "quantitative", "scale": {"domain": [290, 720], "nice": false, "zero": false}, "axis": {"values": [320,400,480,560,640,720], "title": "Serum TNF-α content (pg/mL)"}}, "y2": {"field": "max"}}},
{"data": {"name": "sumBR"}, "mark": {"type": "bar", "fill": "white", "strokeWidth": 2.5, "width": {"band": 0.63}}, "encoding": {"y": {"field": "q1", "type": "quantitative", "axis": {"values": [320,400,480,560,640,720], "title": "Serum TNF-α content (pg/mL)"}}, "y2": {"field": "q3"}, "color": null, "stroke": {"field": "group", "type": "nominal", "scale": {"domain": ["sham+Ph","D+Ph","D+Lig","sham+Lig"], "range": ["#B3848B","#F0A46E","#80ADD6","#8FC47F"]}, "legend": null}}},
{"data": {"name": "sumBR"}, "mark": {"type": "tick", "thickness": 2.5, "size": 29}, "encoding": {"y": {"field": "med", "type": "quantitative", "axis": {"values": [320,400,480,560,640,720], "title": "Serum TNF-α content (pg/mL)"}}}},
{"data": {"name": "sumBR"}, "mark": {"type": "tick", "thickness": 2.5, "size": 12}, "encoding": {"y": {"field": "min", "type": "quantitative", "axis": {"values": [320,400,480,560,640,720], "title": "Serum TNF-α content (pg/mL)"}}}},
{"data": {"name": "sumBR"}, "mark": {"type": "tick", "thickness": 2.5, "size": 12}, "encoding": {"y": {"field": "max", "type": "quantitative", "axis": {"values": [320,400,480,560,640,720], "title": "Serum TNF-α content (pg/mL)"}}}},
{"data": {"name": "ptsBR"}, "mark": {"type": "circle", "size": 34, "opacity": 1}, "encoding": {"xOffset": {"field": "side", "type": "nominal", "scale": {"domain": ["L","C","R"], "paddingInner": 0, "paddingOuter": 0.8}}, "y": {"field": "v", "type": "quantitative", "axis": {"values": [320,400,480,560,640,720], "title": "Serum TNF-α content (pg/mL)"}}}},
{"data": {"name": "sumBR"}, "mark": {"type": "text", "dy": -10, "font": "Liberation Serif", "fontSize": 14, "color": "black"}, "encoding": {"y": {"field": "max", "type": "quantitative", "axis": {"values": [320,400,480,560,640,720], "title": "Serum TNF-α content (pg/mL)"}}, "color": null, "text": {"field": "sig"}}}
]
},
{"width": 1, "height": 83, "data": {"values": []}, "mark": "point"},
{
"width": 209, "height": 211,
"encoding": {
 "x": {"field": "group", "type": "nominal", "sort": ["sham+Ph","D+Ph","D+Lig","sham+Lig"], "scale": {"type": "band", "paddingInner": 0, "paddingOuter": 0.19}, "axis": {"title": null}},
 "color": {"field": "group", "type": "nominal", "scale": {"domain": ["sham+Ph","D+Ph","D+Lig","sham+Lig"], "range": ["#B3848B","#F0A46E","#80ADD6","#8FC47F"]}, "legend": null}
},
"layer": [
{"data": {"name": "sumCR"}, "mark": {"type": "rule", "strokeWidth": 2.5}, "encoding": {"y": {"field": "min", "type": "quantitative", "scale": {"domain": [0, 20], "nice": false, "zero": false}, "axis": {"values": [0,4,8,12,16,20], "title": "MDA content (nmol/mL)"}}, "y2": {"field": "max"}}},
{"data": {"name": "sumCR"}, "mark": {"type": "bar", "fill": "white", "strokeWidth": 2.5, "width": {"band": 0.63}}, "encoding": {"y": {"field": "q1", "type": "quantitative", "axis": {"values": [0,4,8,12,16,20], "title": "MDA content (nmol/mL)"}}, "y2": {"field": "q3"}, "color": null, "stroke": {"field": "group", "type": "nominal", "scale": {"domain": ["sham+Ph","D+Ph","D+Lig","sham+Lig"], "range": ["#B3848B","#F0A46E","#80ADD6","#8FC47F"]}, "legend": null}}},
{"data": {"name": "sumCR"}, "mark": {"type": "tick", "thickness": 2.5, "size": 29}, "encoding": {"y": {"field": "med", "type": "quantitative", "axis": {"values": [0,4,8,12,16,20], "title": "MDA content (nmol/mL)"}}}},
{"data": {"name": "sumCR"}, "mark": {"type": "tick", "thickness": 2.5, "size": 12}, "encoding": {"y": {"field": "min", "type": "quantitative", "axis": {"values": [0,4,8,12,16,20], "title": "MDA content (nmol/mL)"}}}},
{"data": {"name": "sumCR"}, "mark": {"type": "tick", "thickness": 2.5, "size": 12}, "encoding": {"y": {"field": "max", "type": "quantitative", "axis": {"values": [0,4,8,12,16,20], "title": "MDA content (nmol/mL)"}}}},
{"data": {"name": "ptsCR"}, "mark": {"type": "circle", "size": 34, "opacity": 1}, "encoding": {"xOffset": {"field": "side", "type": "nominal", "scale": {"domain": ["L","C","R"], "paddingInner": 0, "paddingOuter": 0.8}}, "y": {"field": "v", "type": "quantitative", "axis": {"values": [0,4,8,12,16,20], "title": "MDA content (nmol/mL)"}}}},
{"data": {"name": "sumCR"}, "mark": {"type": "text", "dy": -10, "font": "Liberation Serif", "fontSize": 14, "color": "black"}, "encoding": {"y": {"field": "max", "type": "quantitative", "axis": {"values": [0,4,8,12,16,20], "title": "MDA content (nmol/mL)"}}, "color": null, "text": {"field": "sig"}}}
]
},
{"width": 1, "height": 101, "data": {"values": []}, "mark": "point"},
{
"width": 201, "height": 204,
"encoding": {
 "x": {"field": "group", "type": "nominal", "sort": ["sham+Ph","D+Ph","D+Lig","sham+Lig"], "scale": {"type": "band", "paddingInner": 0, "paddingOuter": 0.16}, "axis": {"title": null}},
 "color": {"field": "group", "type": "nominal", "scale": {"domain": ["sham+Ph","D+Ph","D+Lig","sham+Lig"], "range": ["#B3848B","#F0A46E","#80ADD6","#8FC47F"]}, "legend": null}
},
"layer": [
{"data": {"name": "sumDR"}, "mark": {"type": "rule", "strokeWidth": 2.5}, "encoding": {"y": {"field": "min", "type": "quantitative", "scale": {"domain": [0.006, 0.020], "nice": false, "zero": false}, "axis": {"values": [0.008,0.012,0.016,0.020], "format": ".3f", "title": "Thymus index"}}, "y2": {"field": "max"}}},
{"data": {"name": "sumDR"}, "mark": {"type": "bar", "fill": "white", "strokeWidth": 2.5, "width": {"band": 0.63}}, "encoding": {"y": {"field": "q1", "type": "quantitative", "axis": {"values": [0.008,0.012,0.016,0.020], "format": ".3f", "title": "Thymus index"}}, "y2": {"field": "q3"}, "color": null, "stroke": {"field": "group", "type": "nominal", "scale": {"domain": ["sham+Ph","D+Ph","D+Lig","sham+Lig"], "range": ["#B3848B","#F0A46E","#80ADD6","#8FC47F"]}, "legend": null}}},
{"data": {"name": "sumDR"}, "mark": {"type": "tick", "thickness": 2.5, "size": 29}, "encoding": {"y": {"field": "med", "type": "quantitative", "axis": {"values": [0.008,0.012,0.016,0.020], "format": ".3f", "title": "Thymus index"}}}},
{"data": {"name": "sumDR"}, "mark": {"type": "tick", "thickness": 2.5, "size": 12}, "encoding": {"y": {"field": "min", "type": "quantitative", "axis": {"values": [0.008,0.012,0.016,0.020], "format": ".3f", "title": "Thymus index"}}}},
{"data": {"name": "sumDR"}, "mark": {"type": "tick", "thickness": 2.5, "size": 12}, "encoding": {"y": {"field": "max", "type": "quantitative", "axis": {"values": [0.008,0.012,0.016,0.020], "format": ".3f", "title": "Thymus index"}}}},
{"data": {"name": "ptsDR"}, "mark": {"type": "circle", "size": 34, "opacity": 1}, "encoding": {"xOffset": {"field": "side", "type": "nominal", "scale": {"domain": ["L","C","R"], "paddingInner": 0, "paddingOuter": 0.8}}, "y": {"field": "v", "type": "quantitative", "axis": {"values": [0.008,0.012,0.016,0.020], "format": ".3f", "title": "Thymus index"}}}},
{"data": {"name": "sumDR"}, "mark": {"type": "text", "dy": -10, "font": "Liberation Serif", "fontSize": 14, "color": "black"}, "encoding": {"y": {"field": "max", "type": "quantitative", "axis": {"values": [0.008,0.012,0.016,0.020], "format": ".3f", "title": "Thymus index"}}, "color": null, "text": {"field": "sig"}}}
]
}
],
"spacing": 0,
"bounds": "flush"
}
],
"config": {
"view": {"stroke": null},
"axis": {"grid": false, "domainColor": "black", "domainWidth": 2, "tickColor": "black", "tickWidth": 2, "tickSize": 5, "labelColor": "black", "labelFont": "Liberation Serif", "labelFontWeight": "bold", "labelFontSize": 13, "labelPadding": 3, "titleFont": "Liberation Serif", "titleFontWeight": "bold", "titleFontSize": 14, "titleColor": "black", "titlePadding": 5},
"axisX": {"labelAngle": -45, "labelFontSize": 14},
"axisY": {"labelFlush": false}
}
}
